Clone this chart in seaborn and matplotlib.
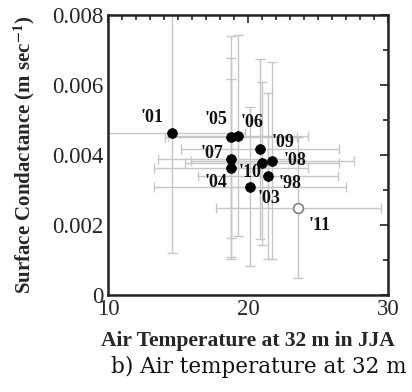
import numpy as np
import pandas as pd
import matplotlib
matplotlib.use("Agg")
import matplotlib.pyplot as plt
from matplotlib.ticker import MultipleLocator, FixedLocator
import seaborn as sns

# ---- data ----
years = ["'01", "'05", "'06", "'09", "'07", "'04", "'10", "'08", "'98", "'03", "'11"]
air_temp = [14.59, 18.79, 19.31, 20.88, 18.76, 18.79, 21.02, 21.74, 21.43, 20.12, 23.59]
conductance = [0.00464, 0.00451, 0.00455, 0.00417, 0.00389, 0.00362, 0.00376, 0.00384, 0.00340, 0.00309, 0.00249]
temp_err = [5.2, 4.7, 5.0, 5.65, 5.2, 5.5, 5.5, 5.8, 5.0, 6.85, 5.9]
cond_err = [0.00345, 0.00289, 0.00287, 0.00257, 0.00287, 0.00254, 0.00233, 0.00281, 0.00238, 0.00227, 0.00201]
group = ["normal"] * 10 + ["2011"]

x_ticks = [10, 20, 30]
y_ticks = [0, 0.002, 0.004, 0.006, 0.008]
y_tick_labels = ["0", "0.002", "0.004", "0.006", "0.008"]

# label offsets (pixels, +y up) for year annotations
label_offsets = {"'01": (-20, 15), "'05": (-15, 18), "'06": (14, 13), "'09": (23, 7),
                 "'07": (-19, 5), "'04": (-15, -14), "'10": (-12, -9), "'08": (23, 0),
                 "'98": (22, -7), "'03": (19, -12), "'11": (21, -18)}

df = pd.DataFrame({"year": years, "temp": air_temp, "cond": conductance,
                   "terr": temp_err, "cerr": cond_err, "group": group})

sns.set_style("white")
plt.rcParams["font.family"] = ["Liberation Serif", "DejaVu Serif"]
plt.rcParams["mathtext.fontset"] = "stix"

fig = plt.figure(figsize=(4.12, 3.92), dpi=100)
ax = fig.add_axes([108 / 412, 1 - 295 / 392, 280 / 412, 280 / 392])

ax.errorbar(df["temp"], df["cond"], xerr=df["terr"], yerr=df["cerr"], fmt="none",
            ecolor="#c6c6c6", elinewidth=1.0, capsize=3.5, capthick=1.0, zorder=1)

sns.scatterplot(data=df[df.group == "normal"], x="temp", y="cond", ax=ax, color="black",
                s=50, edgecolor="black", linewidth=0.5, zorder=3, legend=False)
sns.scatterplot(data=df[df.group == "2011"], x="temp", y="cond", ax=ax, color="white",
                s=50, edgecolor="#808080", linewidth=1.2, zorder=3, legend=False)

for _, r in df.iterrows():
    dx, dy = label_offsets[r["year"]]
    ax.annotate(r["year"], (r["temp"], r["cond"]), xytext=(dx, dy),
                textcoords="offset pixels", ha="center", va="center",
                fontsize=13, fontweight="bold", color="#111111", zorder=4)

ax.set_xlim(10, 30)
ax.set_ylim(0, 0.008)
ax.xaxis.set_major_locator(FixedLocator(x_ticks))
ax.xaxis.set_minor_locator(MultipleLocator(1))
ax.yaxis.set_major_locator(FixedLocator(y_ticks))
ax.yaxis.set_minor_locator(MultipleLocator(0.001))
ax.set_yticklabels(y_tick_labels)
ax.tick_params(which="both", direction="in", top=True, right=True, color="#222222",
               width=1.2, labelsize=16.5, pad=3)
ax.tick_params(which="major", length=6)
ax.tick_params(which="minor", length=3.5)
for s in ax.spines.values():
    s.set_linewidth(1.8)
    s.set_color("#222222")

ax.set_xlabel("Air Temperature at 32 m in JJA", fontsize=15.5, fontweight="bold")
ax.xaxis.set_label_coords(0.5, -0.13)
ax.set_ylabel("Surface Condactance (m sec$^{\\mathbf{-1}}$)", fontsize=15, fontweight="bold")
ax.yaxis.set_label_coords(-0.253, 0.5)

fig.text(0.629, 1 - 367 / 392, "b) Air temperature at 32 m", ha="center", va="center",
         fontsize=15.5, family=["DejaVu Serif"], color="#111111")

fig.savefig("out.png", dpi=100)
